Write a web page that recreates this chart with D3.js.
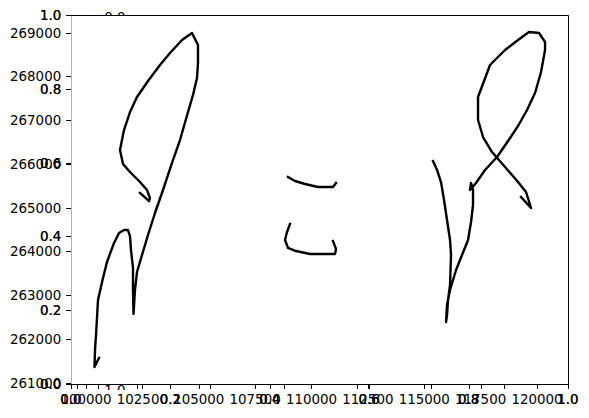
<!DOCTYPE html>
<html><head><meta charset="utf-8">
<script src="https://cdn.jsdelivr.net/npm/d3@7"></script>
<style>body{margin:0;background:#fff}svg{display:block}text{font-family:"DejaVu Sans",sans-serif;font-size:13.4px;fill:#000}</style>
</head><body>
<script>
// ---- data (map coordinates) ----
const trackLeft = [
 [100577,261565],[100377,261359],[100399,261747],[100444,262090],[100488,262479],[100532,262890],
 [100754,263393],[100931,263759],[101242,264193],[101464,264422],[101685,264490],[101863,264490],
 [101951,264353],[101996,264033],[102084,263622],[102084,263119],[102107,262570],[102173,263119],
 [102262,263530],[102484,263919],[102750,264376],[103060,264879],[103415,265405],[103814,266022],
 [104169,266547],[104524,267187],[104745,267576],[104923,267965],[104967,268307],[104967,268719],
 [104701,268993],[104258,268833],[103725,268536],[103282,268262],[102750,267896],[102262,267530],
 [101951,267187],[101685,266776],[101508,266319],[101641,265999],[101951,265816],[102395,265587],
 [102705,265405],[102838,265222],[102794,265153],[102395,265336]
];
const trackMidUpper = [
 [108959,265702],[109269,265610],[109713,265542],[110289,265473],[110954,265473],[111087,265565]
];
const trackMidLower = [
 [109047,264627],[108914,264445],[108826,264262],[108959,264079],[109314,264010],[109934,263942],
 [111043,263942],[111087,264056],[110954,264239]
];
const trackRight = [
 [115389,266067],[115567,265862],[115744,265587],[115877,265176],[116010,264719],[116143,264262],
 [116188,263919],[116143,263233],[116055,262890],[116010,262547],[115966,262387],[116010,262776],
 [116143,263119],[116410,263576],[116676,263919],[116942,264262],[117075,264673],[117163,265062],
 [117163,265405],[117075,265565],[117030,265405],[117296,265565],[117695,265862],[118228,266159],
 [118716,266525],[119159,266867],[119558,267233],[119913,267622],[120179,268102],[120357,268605],
 [120357,268787],[120091,268993],[119647,269016],[119159,268833],[118583,268605],[117917,268262],
 [117385,267530],[117385,267005],[117607,266616],[118006,266273],[118583,265930],[119159,265587],
 [119514,265359],[119736,264993],[119292,265245]
];
const tracks = [trackLeft, trackMidUpper, trackMidLower, trackRight];
const xTicksMain = [100000,102500,105000,107500,110000,112500,115000,117500,120000];
const yTicksMain = [261000,262000,263000,264000,265000,266000,267000,268000,269000];
const unitTicks = [0,0.2,0.4,0.6,0.8,1.0];
const auxTicksA = [1,2,3,4,5,6];
const auxTicksB = [0,1];
const xDomain = [99335,121375];
const yDomain = [260970,269405];

// ---- layout ----
const W=589,H=418, L=71,R=568,T=15,B=384, TL=4.9, PAD=4.9;
const svg=d3.select("body").append("svg").attr("width",W).attr("height",H);
const x=d3.scaleLinear().domain(xDomain).range([L,R]);
const y=d3.scaleLinear().domain(yDomain).range([B,T]);
const xu=d3.scaleLinear().domain([0,1]).range([L,R]);
const yu=d3.scaleLinear().domain([0,1]).range([B,T]);
const xa=d3.scaleLinear().domain([0,1]).range([63.6,137]);
const xb=d3.scaleLinear().domain([0,1]).range([77,98]);

const g=svg.append("g");
const defs=svg.append("defs");
defs.append("clipPath").attr("id","cTop").append("rect").attr("x",0).attr("y",0).attr("width",W).attr("height",T);
defs.append("clipPath").attr("id","cBot").append("rect").attr("x",0).attr("y",B).attr("width",W).attr("height",6);
g.append("text").attr("x",xu(0.0885)).attr("y",T+6.6).attr("text-anchor","middle").attr("clip-path","url(#cTop)").text("0.0");
g.append("text").attr("x",xu(0.0885)).attr("y",B+11).attr("text-anchor","middle").attr("clip-path","url(#cBot)").text("1.0");

// tracks
const line=d3.line().x(d=>x(d[0])).y(d=>y(d[1]));
g.selectAll("path.trk").data(tracks).join("path").attr("class","trk")
 .attr("d",line).attr("fill","none").attr("stroke","#000").attr("stroke-width",2.4)
 .attr("stroke-linejoin","round").attr("stroke-linecap","square");

// frame
g.append("line").attr("x1",L+0.5).attr("x2",L+0.5).attr("y1",T).attr("y2",B).attr("stroke","#b4b4b4").attr("stroke-width",1);
g.append("path").attr("d",`M${L},${T+0.5}H${R+0.5}V${B+0.5}H${L}`).attr("fill","none").attr("stroke","#000").attr("stroke-width",1);

function xTickSet(scale,vals,labelFn,times){
  const s=g.append("g");
  vals.forEach(v=>{
    const px=Math.round(scale(v))+0.5;
    s.append("line").attr("x1",px).attr("x2",px).attr("y1",B).attr("y2",B+TL).attr("stroke","#000").attr("stroke-width",1);
    if(labelFn) for(let i=0;i<times;i++) s.append("text").attr("x",scale(v)).attr("y",B+TL+PAD+10.6).attr("text-anchor","middle").text(labelFn(v));
  });
}
function yTickSet(scale,vals,labelFn,times){
  const s=g.append("g");
  vals.forEach(v=>{
    const py=Math.round(scale(v))+0.5;
    s.append("line").attr("x1",L-TL).attr("x2",L).attr("y1",py).attr("y2",py).attr("stroke","#000").attr("stroke-width",1);
    for(let i=0;i<times;i++) s.append("text").attr("x",L-TL-PAD).attr("y",scale(v)+4.9).attr("text-anchor","end").text(labelFn(v));
  });
}
xTickSet(xa,auxTicksA,null,0);
xTickSet(xb,auxTicksB,null,0);
xTickSet(x,xTicksMain,d=>String(d),1);
xTickSet(xu,unitTicks,d3.format(".1f"),2);
yTickSet(y,yTicksMain,d=>String(d),1);
yTickSet(yu,unitTicks,d3.format(".1f"),2);
</script>
</body></html>
